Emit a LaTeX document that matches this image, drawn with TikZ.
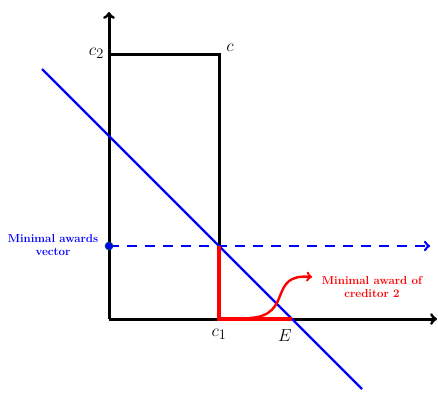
\documentclass[tikz,border=0pt]{standalone}
\usetikzlibrary{calc}
\begin{document}
\begin{tikzpicture}[x=1pt, y=1pt]
    \tikzstyle{axis}=[draw=black, line width=3pt, ->]
    \tikzstyle{edge}=[draw=black, line width=3pt]
    \tikzstyle{budget}=[draw=blue, line width=2.2pt]
    \tikzstyle{award}=[draw=red, line width=3.2pt]
    \tikzstyle{mathlabel}=[inner sep=1pt, font=\fontsize{19}{21}\selectfont]
    \tikzstyle{note}=[align=center, font=\fontsize{11.5}{13}\selectfont\bfseries, inner sep=1pt]

    \useasboundingbox (-109,-73) rectangle (329,319);

    \coordinate (o) at (0,0);
    \coordinate (ytip) at (0,307);
    \coordinate (xtip) at (328,0);
    \coordinate (c2) at (0,265);
    \coordinate (c) at (110,265);
    \coordinate (c1) at (110,0);
    \coordinate (E) at (183,0);
    \coordinate (mv) at (110,73);
    \coordinate (mv0) at (0,73);
    \coordinate (mvtip) at (321,73);
    \coordinate (b1) at (-67,250);
    \coordinate (b2) at (253,-70);

    % axes and claims box
    \draw[axis] (o) -- (ytip);
    \draw[axis] (o) -- (xtip);
    \draw[edge] (c2) -- (c) -- (mv);

    % budget line
    \draw[budget] (b1) -- (b2);

    % minimal awards vector
    \draw[budget, line width=2.6pt, dash pattern=on 10pt off 8pt, ->] (mv0) -- (mvtip);
    \filldraw[fill=blue, draw=blue!40!green!60!black, line width=0.6pt] (mv0) circle (4);

    % award of creditor 2
    \draw[award] (mv) -- (c1) -- (E);

    \node[mathlabel, anchor=east] (lc2) at (-4,266) {$c_2$};
    \node[mathlabel] (lc) at (121,271) {$c$};
    \node[mathlabel] (lc1) at (110,-15) {$c_1$};
    \node[mathlabel] (lE) at (176,-17) {$E$};

    \node[note, text=blue] (vec) at (-56,74) {Minimal awards\\vector};
    \node[note, text=red] (cred) at (263,32) {Minimal award of\\creditor 2};

    \coordinate (astart) at (141,1);
    \coordinate (aend) at (203,42);
    \draw[red, line width=2.4pt, ->] (astart) .. controls (185,4) and (158,46) .. (aend);
\end{tikzpicture}
\end{document}
